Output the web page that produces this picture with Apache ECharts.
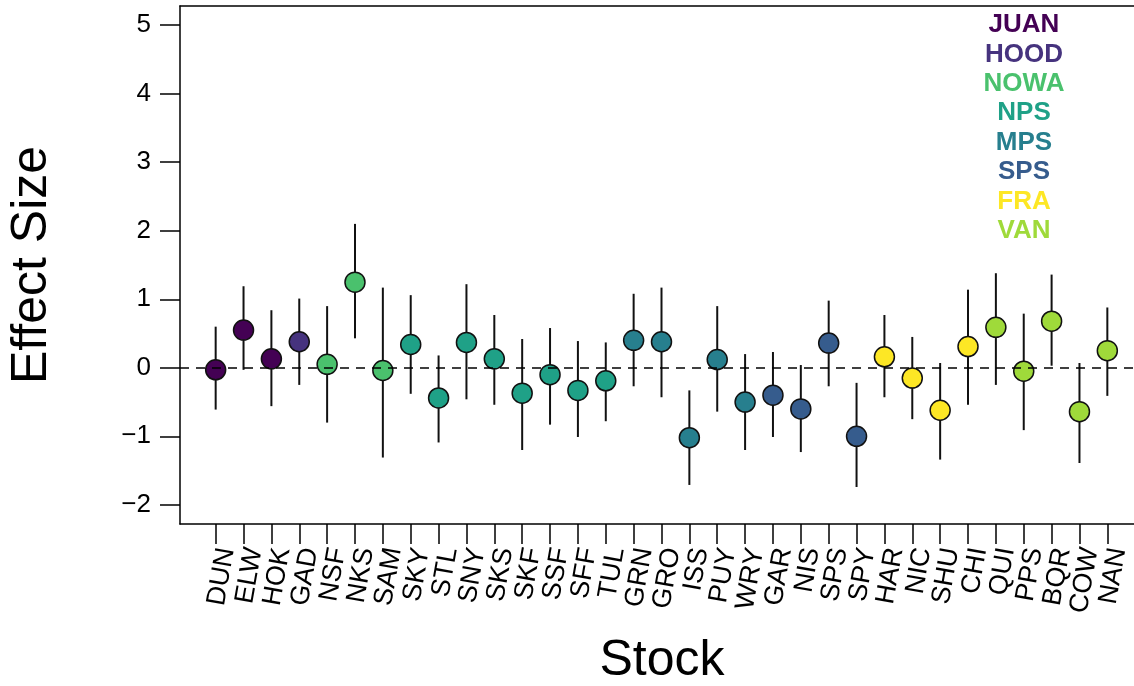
<!DOCTYPE html>
<html>
<head>
<meta charset="utf-8">
<script src="https://cdn.jsdelivr.net/npm/echarts@6/dist/echarts.min.js"></script>
<style>
html,body{margin:0;padding:0;background:#fff;}
#chart{width:1134px;height:686px;}
</style>
</head>
<body>
<div id="chart"></div>
<script>
var categories = ['DUN','ELW','HOK','GAD','NSF','NKS','SAM','SKY','STL','SNY','SKS','SKF','SSF','SFF','TUL','GRN','GRO','ISS','PUY','WRY','GAR','NIS','SPS','SPY','HAR','NIC','SHU','CHI','QUI','PPS','BQR','COW','NAN'];
var groupOf = ['JUAN','JUAN','JUAN','HOOD','NOWA','NOWA','NOWA','NPS','NPS','NPS','NPS','NPS','NPS','NPS','NPS','MPS','MPS','MPS','MPS','MPS','SPS','SPS','SPS','SPS','FRA','FRA','FRA','FRA','VAN','VAN','VAN','VAN','VAN'];
var effect = [-0.03,0.55,0.13,0.38,0.05,1.25,-0.04,0.34,-0.44,0.37,0.13,-0.37,-0.10,-0.33,-0.19,0.40,0.38,-1.02,0.12,-0.50,-0.40,-0.60,0.36,-1.00,0.16,-0.15,-0.62,0.31,0.59,-0.05,0.68,-0.64,0.25];
var lower = [-0.61,-0.03,-0.56,-0.25,-0.80,0.43,-1.31,-0.38,-1.09,-0.46,-0.54,-1.20,-0.83,-1.01,-0.78,-0.27,-0.43,-1.71,-0.64,-1.20,-1.01,-1.23,-0.27,-1.74,-0.43,-0.75,-1.34,-0.54,-0.25,-0.91,0.03,-1.39,-0.41];
var upper = [0.60,1.19,0.84,1.01,0.90,2.10,1.17,1.06,0.18,1.22,0.77,0.42,0.58,0.39,0.37,1.08,1.17,-0.33,0.90,0.20,0.23,0.04,0.98,-0.22,0.77,0.45,0.07,1.14,1.38,0.79,1.36,0.07,0.88];
var groups = ['JUAN','HOOD','NOWA','NPS','MPS','SPS','FRA','VAN'];
var groupColors = ['#440154','#46337E','#4AC16D','#1FA187','#277F8E','#365C8D','#FDE725','#9FDA3A'];
var yTicks = [-2,-1,0,1,2,3,4,5];

var FONT = 'Liberation Sans, Arial, sans-serif';
var colorOf = {};
groups.forEach(function(g,i){ colorOf[g] = groupColors[i]; });
var xIdx = categories.map(function(c,i){ return i+1; });

var barData = categories.map(function(c,i){ return [i+1, lower[i], upper[i]]; });
var ptData = categories.map(function(c,i){
  return { value:[i+1, effect[i]], itemStyle:{ color: colorOf[groupOf[i]] } };
});

var legendTexts = groups.map(function(g,i){
  return {
    type:'text', x: 1024, y: 25 + i*29.4,
    style:{ text:g, fill:groupColors[i], font:'bold 26px '+FONT, textAlign:'center', textVerticalAlign:'middle' }
  };
});

var chart = echarts.init(document.getElementById('chart'), null, {renderer:'canvas'});
chart.setOption({
  animation:false,
  backgroundColor:'#fff',
  grid:{ left:180, top:6, width:963, height:518, show:false, containLabel:false, outerBoundsMode:'none' },
  xAxis:[{
    type:'value', min:-0.28, max:34.28, position:'bottom',
    axisLine:{ show:true, onZero:false, lineStyle:{ color:'#000', width:1.5 } },
    splitLine:{ show:false },
    axisTick:{ show:true, customValues:xIdx, length:20, lineStyle:{ color:'#000', width:1.5 } },
    axisLabel:{ show:true, customValues:xIdx, rotate:80, margin:22, fontSize:27, lineHeight:22, verticalAlign:'top',
      hideOverlap:false, color:'#000', fontFamily:FONT,
      formatter:function(v){ return categories[Math.round(v)-1] || ''; } }
  },{
    type:'value', min:-0.28, max:34.28, position:'top',
    axisLine:{ show:true, onZero:false, lineStyle:{ color:'#000', width:1.5 } },
    splitLine:{ show:false }, axisTick:{ show:false }, axisLabel:{ show:false }
  }],
  yAxis:{
    type:'value', min:-2.28, max:5.28,
    axisLine:{ show:true, onZero:false, lineStyle:{ color:'#000', width:1.5 } },
    splitLine:{ show:false },
    axisTick:{ show:true, customValues:yTicks, length:20, lineStyle:{ color:'#000', width:1.5 } },
    axisLabel:{ show:true, customValues:yTicks, margin:29, fontSize:26, color:'#000', fontFamily:FONT,
      formatter:function(v){ return v<0 ? '\u2212'+Math.abs(v) : String(v); } }
  },
  series:[
    {
      type:'custom',
      data:barData,
      z:2,
      renderItem:function(params, api){
        var p1 = api.coord([api.value(0), api.value(1)]);
        var p2 = api.coord([api.value(0), api.value(2)]);
        return { type:'line', shape:{ x1:p1[0], y1:p1[1], x2:p2[0], y2:p2[1] }, style:{ stroke:'#111', lineWidth:2 } };
      },
      markLine:{
        silent:true, symbol:['none','none'], label:{ show:false },
        lineStyle:{ color:'#000', type:[9,7], width:1.5 },
        data:[{ yAxis:0 }]
      }
    },
    {
      type:'scatter',
      data:ptData,
      z:3,
      symbol:'circle',
      symbolSize:20,
      itemStyle:{ borderColor:'#111', borderWidth:1.5, opacity:1 }
    }
  ],
  graphic:[
    { type:'text', x:32, y:265, rotation:Math.PI/2,
      style:{ text:'Effect Size', font:'50px '+FONT, fill:'#000', textAlign:'center', textVerticalAlign:'middle' } },
    { type:'text', x:662, y:661,
      style:{ text:'Stock', font:'50px '+FONT, fill:'#000', textAlign:'center', textVerticalAlign:'middle' } }
  ].concat(legendTexts)
});
</script>
</body>
</html>
